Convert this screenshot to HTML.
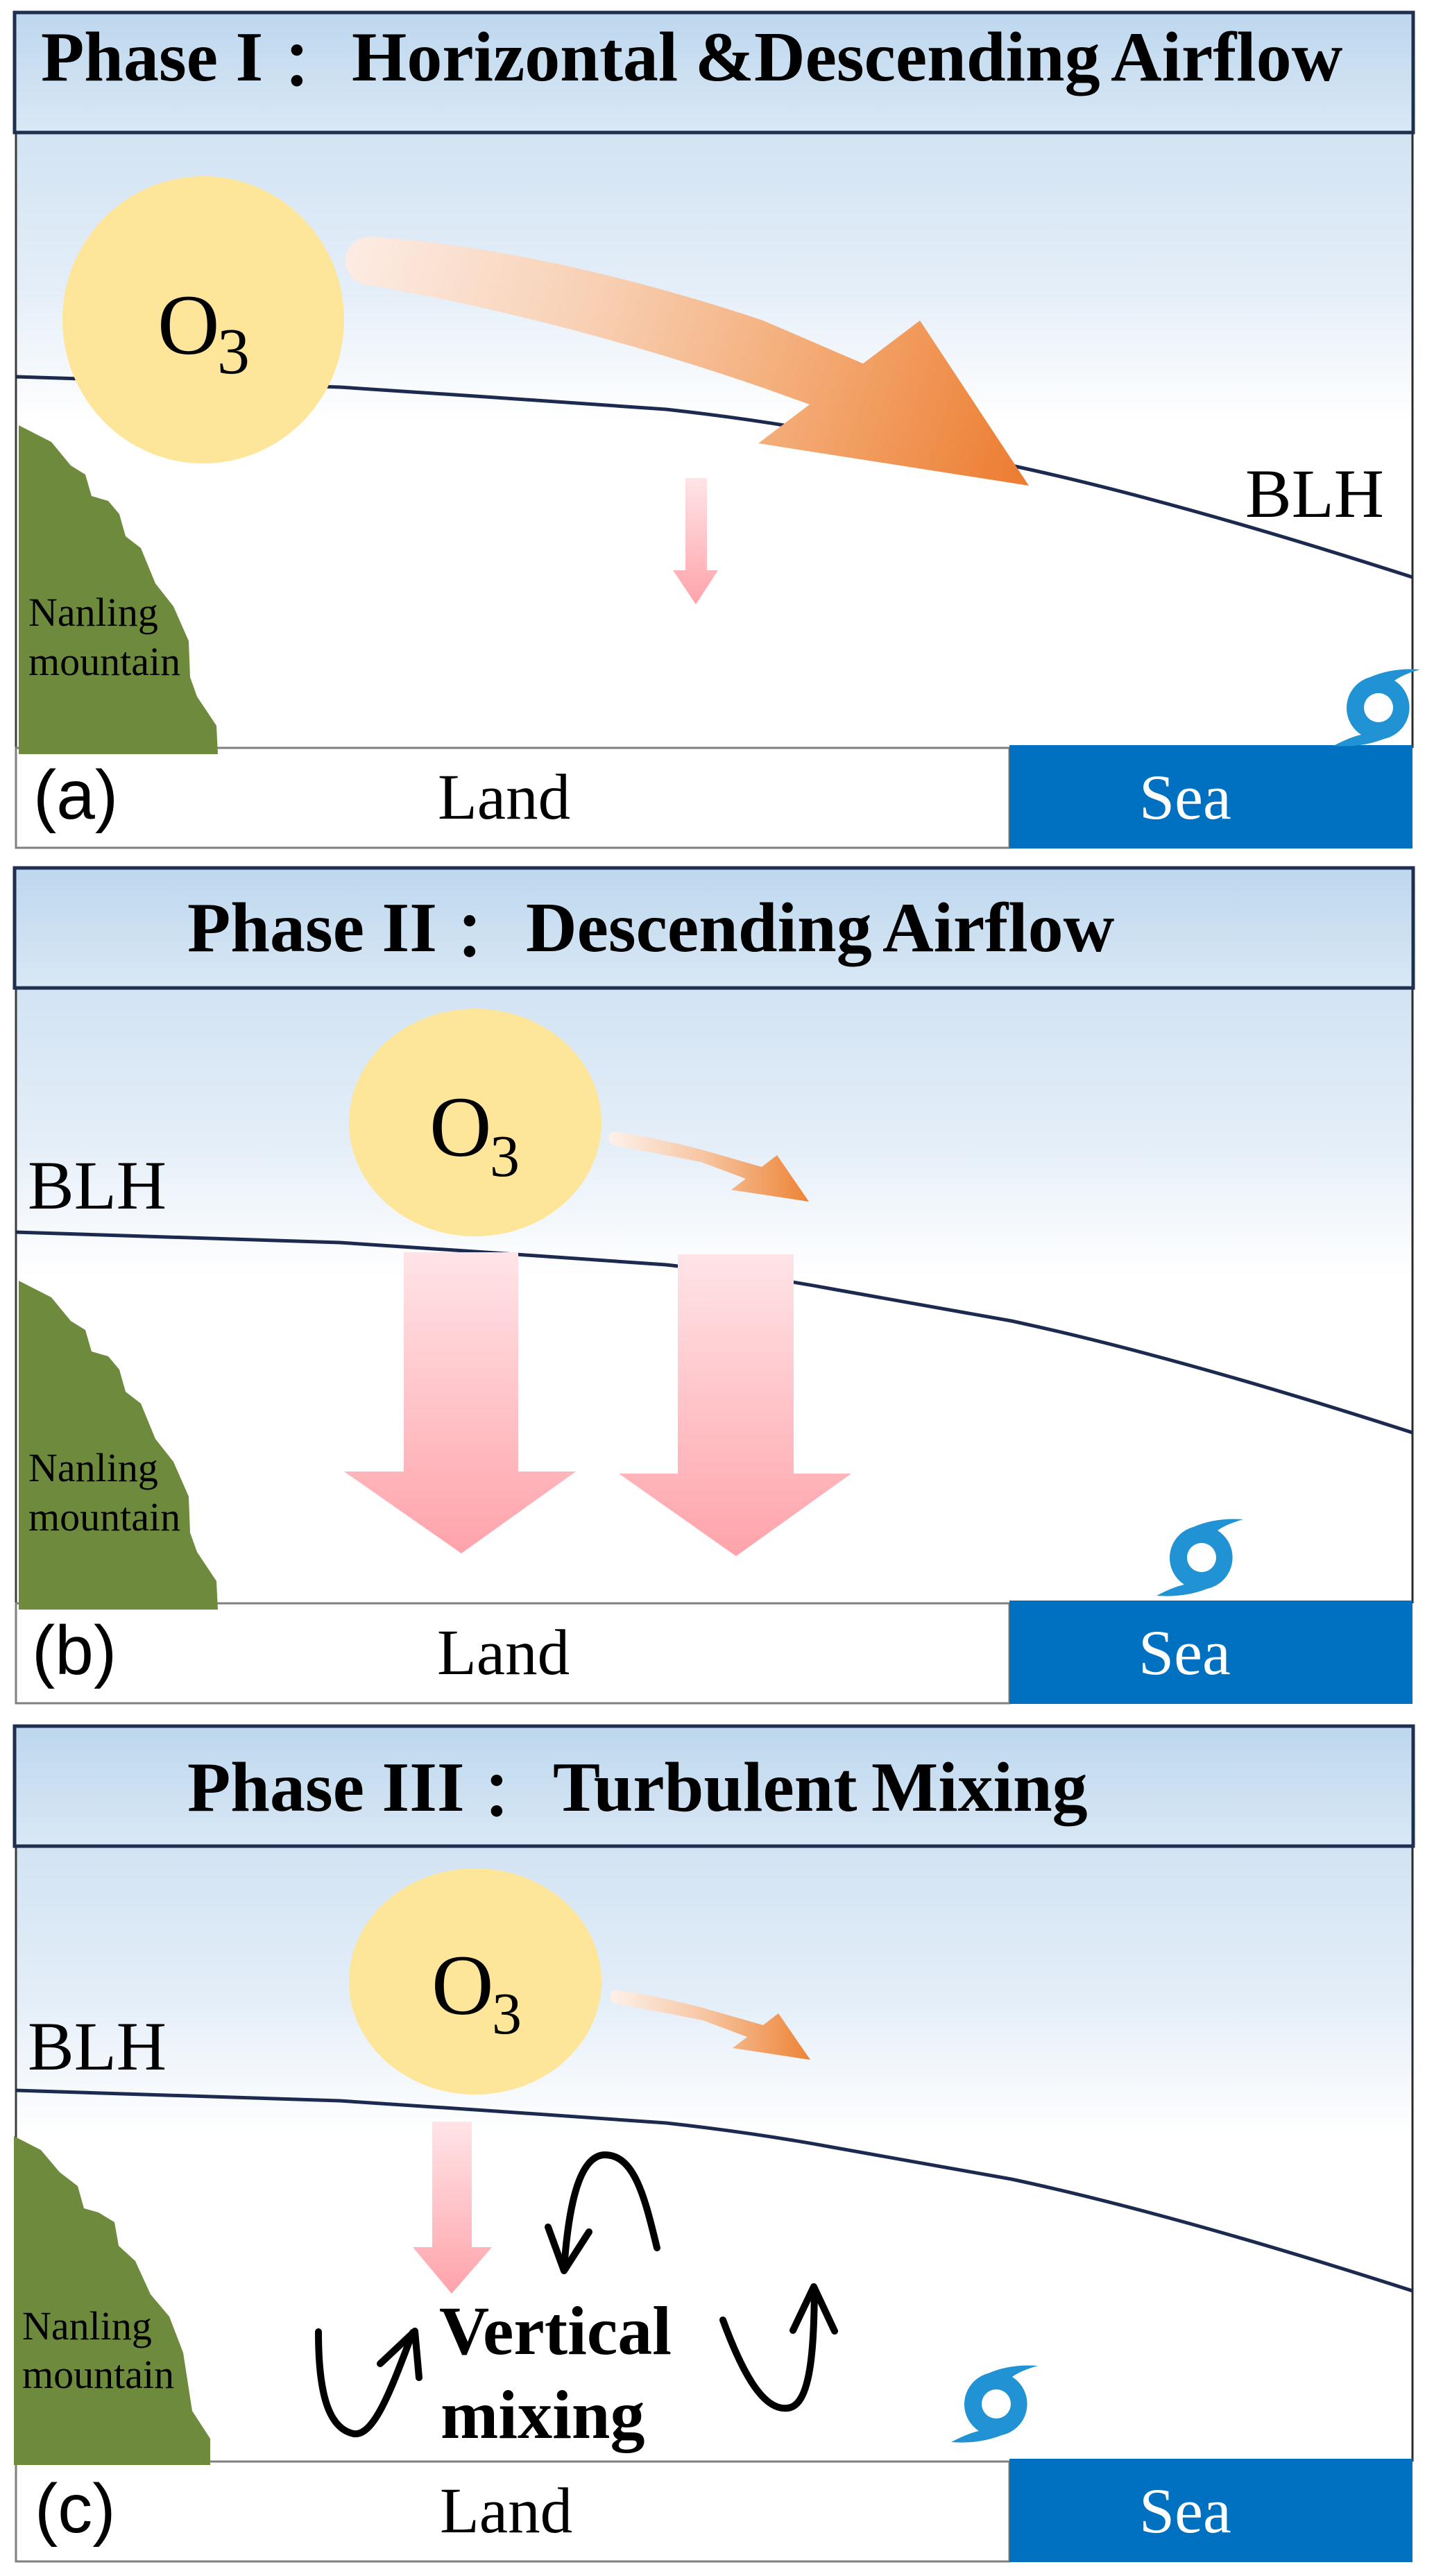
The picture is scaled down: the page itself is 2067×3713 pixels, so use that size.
<!DOCTYPE html>
<html><head><meta charset="utf-8"><style>
html,body{margin:0;padding:0;background:#fff;}
svg{display:block;}
</style></head><body>
<svg xmlns="http://www.w3.org/2000/svg" width="2067" height="3713" viewBox="0 0 2067 3713">
<defs>
 <linearGradient id="hdr" x1="0" y1="0" x2="0" y2="1"><stop offset="0" stop-color="#bdd7ee"/><stop offset="1" stop-color="#d9e8f5"/></linearGradient>
 <linearGradient id="sky" x1="0" y1="0" x2="0" y2="1"><stop offset="0" stop-color="#d2e3f3"/><stop offset="0.25" stop-color="#e4eef8"/><stop offset="0.47" stop-color="#ffffff"/><stop offset="1" stop-color="#ffffff"/></linearGradient>
 <linearGradient id="pink" x1="0" y1="0" x2="0" y2="1"><stop offset="0" stop-color="#ffe4e7"/><stop offset="1" stop-color="#ffa3aa"/></linearGradient>
 <linearGradient id="orsm" x1="0" y1="0" x2="1" y2="0"><stop offset="0" stop-color="#fdf1ea"/><stop offset="0.45" stop-color="#f7c8a6"/><stop offset="1" stop-color="#ed8436"/></linearGradient>
 <linearGradient id="orbig" gradientUnits="userSpaceOnUse" x1="510" y1="370" x2="1480" y2="690"><stop offset="0" stop-color="#fcebe2"/><stop offset="0.35" stop-color="#f8cfb2"/><stop offset="0.7" stop-color="#f3a56c"/><stop offset="1" stop-color="#ec7c30"/></linearGradient>
 <g id="frame">
  <rect x="23" y="191" width="2013" height="887" fill="url(#sky)"/>
  <line x1="23" y1="191" x2="23" y2="1078" stroke="#3c3c3c" stroke-width="3"/>
  <line x1="2036" y1="191" x2="2036" y2="1078" stroke="#2a2a2a" stroke-width="3"/>
  <path d="M23,543 L490,558 L700,572 L960,590 C1050,600 1130,612 1200,625 L1458,671 C1640,710 1850,772 2036,832" fill="none" stroke="#1b2a4e" stroke-width="5"/>
  <rect x="21" y="18" width="2016" height="173" fill="url(#hdr)" stroke="#1f2f50" stroke-width="5"/>
  <rect x="23" y="1078" width="1432" height="144" fill="#ffffff" stroke="#7f7f7f" stroke-width="3"/>
  <rect x="1455" y="1074" width="581" height="149" fill="#0070c0"/>
 </g>
 <path id="cyc" fill="#2192d3" fill-rule="evenodd" d="M-65,55 Q-40,42 -25,39 A46,46 0 0 1 -12,-44 Q20,-58 60,-55 Q35,-48 23,-39 A46,46 0 0 1 8,45 Q-25,58 -65,55 Z M-21,0 A21,21 0 1 0 21,0 A21,21 0 1 0 -21,0 Z"/>
</defs>

<!-- ================= PANEL A ================= -->
<g>
 <use href="#frame"/>
 <polygon fill="#6e8b3d" points="27,613 74,637 102,671 123,684 132,715 156,722 172,741 181,773 203,790 224,841 250,874 272,924 274,976 284,1004 312,1046 314,1087 27,1087"/>
 <g font-family="'Liberation Serif', serif" font-size="58" fill="#000">
  <text x="41" y="902">Nanling</text>
  <text x="41" y="973">mountain</text>
 </g>
 <g font-family="'Liberation Serif', serif" font-weight="bold" font-size="102" fill="#000">
  <text x="59" y="116">Phase I</text>
  <text x="428" y="128" text-anchor="middle" font-family="'Liberation Serif','Noto Serif CJK JP',serif" font-size="96">：</text>
  <text x="507" y="116">Horizontal</text>
  <text x="1002" y="116">&amp;Descending</text>
  <text x="1601" y="116">Airflow</text>
 </g>
 <ellipse cx="293" cy="461" rx="203" ry="207" fill="#fde59a"/>
 <text x="227" y="510" font-family="'Liberation Serif', serif" font-size="124">O</text>
 <text x="313" y="538" font-family="'Liberation Serif', serif" font-size="94">3</text>
 <path d="M533,341 C700,352 900,395 1100,462 L1244,524 L1326,462 L1483,700 L1093,639 L1167,583 L1100,559 C900,490 700,440 533,411 A35,35 0 0 1 533,341 Z" fill="url(#orbig)"/>
 <polygon fill="url(#pink)" points="988,689 1019,689 1019,822 1035,822 1003,871 970,822 988,822"/>
 <text x="1795" y="745" font-family="'Liberation Serif', serif" font-size="100">BLH</text>
 <text x="48" y="1180" font-family="'Liberation Sans', sans-serif" font-size="100">(a)</text>
 <text x="631" y="1180" font-family="'Liberation Serif', serif" font-size="93">Land</text>
 <text x="1642" y="1180" font-family="'Liberation Serif', serif" font-size="92" fill="#ffffff">Sea</text>
 <use href="#cyc" transform="translate(1987,1020)"/>
</g>

<!-- ================= PANEL B ================= -->
<g transform="translate(0,1233)">
 <use href="#frame"/>
 <polygon fill="#6e8b3d" points="27,613 74,637 102,671 123,684 132,715 156,722 172,741 181,773 203,790 224,841 250,874 272,924 274,976 284,1004 312,1046 314,1087 27,1087"/>
 <g font-family="'Liberation Serif', serif" font-size="58" fill="#000">
  <text x="41" y="902">Nanling</text>
  <text x="41" y="973">mountain</text>
 </g>
 <g font-family="'Liberation Serif', serif" font-weight="bold" font-size="102" fill="#000">
  <text x="270" y="138">Phase II</text>
  <text x="677" y="150" text-anchor="middle" font-family="'Liberation Serif','Noto Serif CJK JP',serif" font-size="96">：</text>
  <text x="758" y="138">Descending</text>
  <text x="1272" y="138">Airflow</text>
 </g>
 <ellipse cx="685" cy="385" rx="182" ry="164" fill="#fde59a"/>
 <text x="619" y="433" font-family="'Liberation Serif', serif" font-size="124">O</text>
 <text x="706" y="462" font-family="'Liberation Serif', serif" font-size="86">3</text>
 <path d="M884,398 C930,404 980,416 1011,424 L1098,449 L1120,432 L1166,499 L1054,482 L1075,466 L1011,442 C960,432 920,424 889,419 A11,11 0 0 1 884,398 Z" fill="url(#orsm)"/>
 <polygon fill="url(#pink)" points="582,572 747,572 747,888 830,888 665,1006 496,888 582,888"/>
 <polygon fill="url(#pink)" points="977,575 1144,575 1144,891 1227,891 1061,1010 892,891 977,891"/>
 <text x="40" y="509" font-family="'Liberation Serif', serif" font-size="100">BLH</text>
 <text x="46" y="1180" font-family="'Liberation Sans', sans-serif" font-size="100">(b)</text>
 <text x="630" y="1180" font-family="'Liberation Serif', serif" font-size="93">Land</text>
 <text x="1641" y="1180" font-family="'Liberation Serif', serif" font-size="92" fill="#ffffff">Sea</text>
 <use href="#cyc" transform="translate(1732,1012)"/>
</g>

<!-- ================= PANEL C ================= -->
<g transform="translate(0,2470)">
 <use href="#frame"/>
 <polygon fill="#6e8b3d" points="20,609 59,629 86,661 112,681 121,713 142,719 165,733 171,767 195,789 217,837 244,869 264,921 277,1005 303,1045 303,1083 20,1083"/>
 <g font-family="'Liberation Serif', serif" font-size="58" fill="#000">
  <text x="32" y="902">Nanling</text>
  <text x="32" y="972">mountain</text>
 </g>
 <g font-family="'Liberation Serif', serif" font-weight="bold" font-size="102" fill="#000">
  <text x="270" y="140">Phase III</text>
  <text x="716" y="152" text-anchor="middle" font-family="'Liberation Serif','Noto Serif CJK JP',serif" font-size="96">：</text>
  <text x="797" y="140">Turbulent</text>
  <text x="1256" y="140">Mixing</text>
 </g>
 <ellipse cx="685" cy="386" rx="182" ry="163" fill="#fde59a"/>
 <text x="622" y="433" font-family="'Liberation Serif', serif" font-size="124">O</text>
 <text x="709" y="461" font-family="'Liberation Serif', serif" font-size="86">3</text>
 <path d="M886,398 C932,404 982,416 1013,424 L1100,449 L1122,432 L1168,499 L1056,482 L1077,466 L1013,442 C962,432 922,424 891,419 A11,11 0 0 1 886,398 Z" fill="url(#orsm)"/>
 <polygon fill="url(#pink)" points="623,588 680,588 680,769 709,769 651,836 595,769 623,769"/>
 <text x="40" y="513" font-family="'Liberation Serif', serif" font-size="100">BLH</text>
 <g font-family="'Liberation Serif', serif" font-weight="bold" font-size="100" fill="#000">
  <text x="633" y="923">Vertical</text>
  <text x="635" y="1044">mixing</text>
 </g>
 <g fill="none" stroke="#000" stroke-width="10" stroke-linejoin="round" stroke-linecap="round">
  <path d="M459,891 C459,970 470,1030 510,1038 C540,1042 565,970 595,892"/>
  <polyline points="548,937 598,890 604,957"/>
  <path d="M947,770 C930,700 915,635 871,636 C830,638 818,730 813,800"/>
  <polyline points="790,740 813,803 849,747"/>
  <path d="M1042,874 C1070,950 1100,1005 1135,1001 C1170,998 1173,910 1174,830"/>
  <polyline points="1143,889 1173,826 1203,890"/>
 </g>
 <text x="50" y="1180" font-family="'Liberation Sans', sans-serif" font-size="100">(c)</text>
 <text x="634" y="1180" font-family="'Liberation Serif', serif" font-size="93">Land</text>
 <text x="1642" y="1180" font-family="'Liberation Serif', serif" font-size="92" fill="#ffffff">Sea</text>
 <use href="#cyc" transform="translate(1436,995)"/>
</g>
</svg>
</body></html>
